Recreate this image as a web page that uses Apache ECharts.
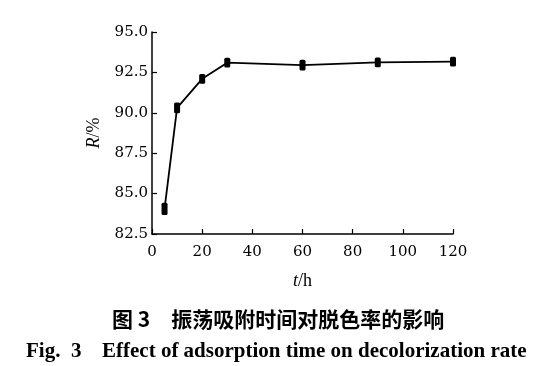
<!DOCTYPE html>
<html><head><meta charset="utf-8">
<script src="https://cdn.jsdelivr.net/npm/echarts@6/dist/echarts.min.js"></script>
<style>html,body{margin:0;padding:0;background:#fff}#c{width:534px;height:366px}</style>
</head><body><div id="c"></div>
<script>
var times = [5, 10, 20, 30, 60, 90, 120];
var removal = [84.05, 90.3, 92.1, 93.1, 92.95, 93.12, 93.17];
var errors = [0.38, 0.33, 0.3, 0.3, 0.33, 0.3, 0.3];
var yTicks = [82.5, 85.0, 87.5, 90.0, 92.5, 95.0];
var xTicks = [0, 20, 40, 60, 80, 100, 120];

var chart = echarts.init(document.getElementById('c'));
var serif = '"Liberation Serif","DejaVu Serif",serif';
var wide = '"DejaVu Serif",serif';
var lineData = times.map(function(t,i){return [t, removal[i]];});
var errData = times.map(function(t,i){return [t, removal[i]-errors[i], removal[i]+errors[i]];});
chart.setOption({
  animation:false,
  grid:{left:152,top:32,right:81,bottom:132},
  xAxis:{type:'value',min:xTicks[0],max:xTicks[xTicks.length-1],interval:20,
    name:'{i|t}/h',nameLocation:'middle',nameGap:38,
    nameTextStyle:{fontFamily:serif,fontSize:18,color:'#000',rich:{i:{fontStyle:'italic',fontFamily:serif,fontSize:18,color:'#000'}}},
    axisLine:{show:true,lineStyle:{color:'#000',width:1.5}},
    axisTick:{show:true,inside:true,length:5,lineStyle:{color:'#000',width:1.2}},
    axisLabel:{fontFamily:wide,fontSize:15,color:'#000',margin:11},
    splitLine:{show:false}},
  yAxis:{type:'value',min:yTicks[0],max:yTicks[yTicks.length-1],interval:2.5,
    name:'{i|R}/%',nameLocation:'middle',nameGap:47,nameRotate:90,
    nameTextStyle:{fontFamily:serif,fontSize:18,color:'#000',rich:{i:{fontStyle:'italic',fontFamily:serif,fontSize:18,color:'#000'}}},
    axisLine:{show:true,lineStyle:{color:'#000',width:1.5}},
    axisTick:{show:true,inside:true,length:5,lineStyle:{color:'#000',width:1.2}},
    axisLabel:{fontFamily:wide,fontSize:15,color:'#000',margin:4,formatter:function(v){return v.toFixed(1);}},
    splitLine:{show:false}},
  series:[
    {type:'line',data:lineData,symbol:'none',lineStyle:{color:'#000',width:1.8},z:2},
    {type:'custom',data:errData,z:3,
      renderItem:function(params,api){
        var x=api.value(0);
        var p1=api.coord([x,api.value(1)]);
        var p2=api.coord([x,api.value(2)]);
        return {type:'rect',shape:{x:p1[0]-3,y:p2[1],width:6,height:p1[1]-p2[1],r:1.5},style:{fill:'#000'}};
      }}
  ],
  graphic:[
    {type:'text',left:112,top:309,style:{text:'图 3　振荡吸附时间对脱色率的影响',font:'bold 21px "Noto Sans CJK SC"',fill:'#000'}},
    {type:'text',left:26,top:341,style:{text:'Fig.  3',font:'bold 21px '+serif,fill:'#000'}},
    {type:'text',left:102,top:341,style:{text:'Effect of adsorption time on decolorization rate',font:'bold 21px '+serif,fill:'#000'}}
  ]
});
</script></body></html>
